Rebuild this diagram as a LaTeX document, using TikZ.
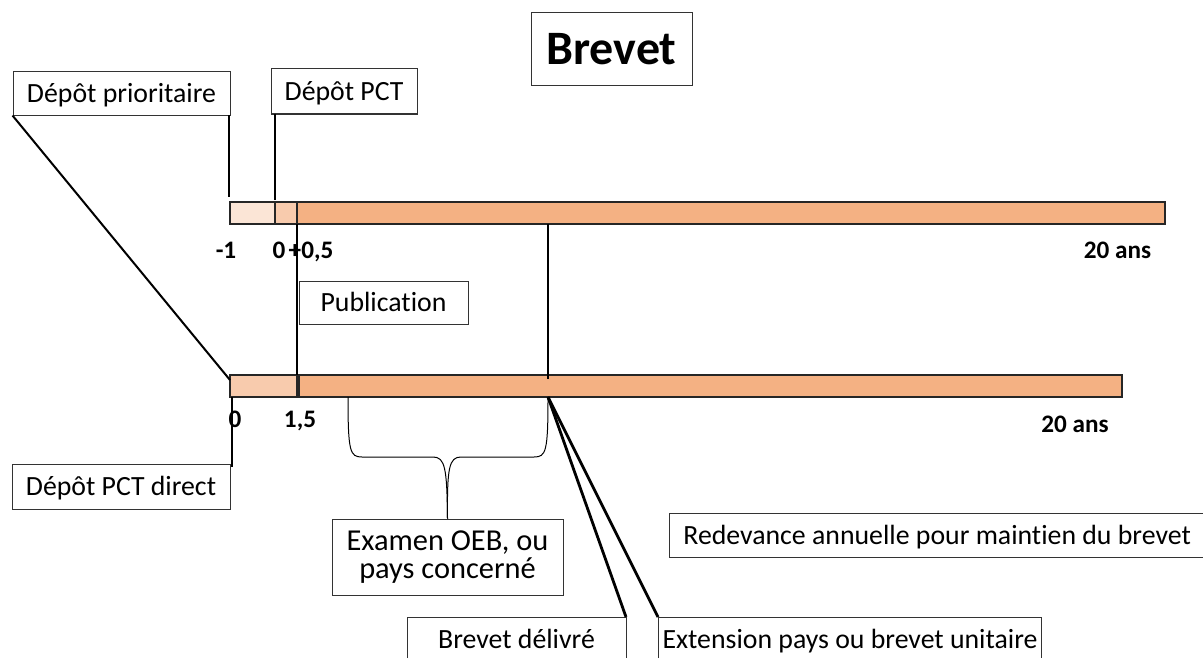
\documentclass[tikz,border=0pt]{standalone}
\usepackage{fontspec}
\setmainfont{Carlito}[Ligatures=NoCommon]
\definecolor{barlight}{HTML}{FBE5D6}
\definecolor{barmid}{HTML}{F8CBAD}
\definecolor{barmain}{HTML}{F4B183}
\begin{document}
\begin{tikzpicture}[x=0.5pt,y=-0.5pt,
  labelbox/.style={draw=black!80, line width=0.5pt, fill=white, inner sep=0pt,
    text height=10.5pt, text depth=1.5pt, font=\fontsize{13.9}{16}\selectfont},
  labeltext/.style={inner sep=0pt, anchor=base, font=\fontsize{13.9}{16}\selectfont},
  seg/.style={draw=black!85, line width=0.6pt, inner sep=0pt, minimum height=11pt},
  lead/.style={line width=1.4pt, black},
  thinlead/.style={line width=1pt, black},
  brace/.style={line width=0.5pt, black},
  num/.style={font=\fontsize{12.6}{14}\selectfont\bfseries, inner sep=0pt, anchor=base}]
\useasboundingbox (0,0) rectangle (1203,658);

% title
\node[draw=black!80, line width=0.5pt, inner sep=0pt, minimum width=80.5pt, minimum height=36.5pt,
  text height=17pt, text depth=1.5pt,
  font=\fontsize{24}{28}\selectfont\bfseries] (title) at (611.5,49.5) {Brevet};

% upper time line: priority filing, PCT filing, 20 years
\node[seg, fill=barlight, minimum width=22.5pt] (t1) at (252.5,213) {};
\node[seg, fill=barmid, minimum width=11pt] (t2) at (286,213) {};
\node[seg, fill=barmain, minimum width=434pt] (t3) at (731,213) {};

\node[num] (n1) at (226,258) {-1};
\node[num] (n2) at (279,258) {0};
\node[num] (n3) at (311,258) {+0,5};
\node[num] (n4) at (1117.5,258) {20 ans};

% lower time line: direct PCT filing
\node[seg, fill=barmid, minimum width=33.5pt] (b1) at (263.5,386) {};
\node[seg, fill=barmain, minimum width=411.5pt] (b2) at (710.5,386) {};

\node[num] (m1) at (235,427) {0};
\node[num] (m2) at (300,427) {1,5};
\node[num] (m3) at (1075,432) {20 ans};

% label boxes
\node[labelbox, minimum width=108.5pt, minimum height=21.5pt] (prio) at (121.5,93.5) {Dépôt prioritaire};
\node[labelbox, minimum width=73pt, minimum height=22.5pt] (pct) at (344,91.5) {Dépôt PCT};
\node[labelbox, minimum width=84.5pt, minimum height=21.5pt] (pub) at (383.5,302.5) {Publication};
\node[labelbox, minimum width=109pt, minimum height=22.5pt] (direct) at (121,486.5) {Dépôt PCT direct};
\node[draw=black!80, line width=0.5pt, fill=white, minimum width=115.5pt, minimum height=38pt]
  (exam) at (447.5,557) {};
\node[labeltext, font=\fontsize{15.2}{16}\selectfont] (exam1) at (447.5,550) {Examen OEB, ou};
\node[labeltext, font=\fontsize{15.2}{16}\selectfont] (exam2) at (447.5,578) {pays concerné};

% boxes running past the lower and right edges
\draw[draw=black!80, line width=0.5pt] (1203,513) -- (669,513) -- (669,557) -- (1203,557);
\node[labeltext, anchor=base west] (fee) at (683,544)
  {Redevance annuelle pour maintien du brevet};
\draw[draw=black!80, line width=0.5pt] (407,658) -- (407,617) -- (626,617) -- (626,658);
\node[labeltext] (grant) at (516.5,648) {Brevet délivré};
\draw[draw=black!80, line width=0.5pt] (658,658) -- (658,617) -- (1041,617) -- (1041,658);
\node[labeltext] (ext) at (850,648) {Extension pays ou brevet unitaire};

% connector end points
\coordinate (prioEnd) at (229,197);
\coordinate (prioTop) at (229,115);
\coordinate (pctTop) at (275,114);
\coordinate (pctEnd) at (275,200);
\coordinate (pubTop) at (297,224);
\coordinate (pubEnd) at (297,375);
\coordinate (grantTop) at (548,224);
\coordinate (grantEnd) at (548,379);
\coordinate (grantLow) at (548,397);
\coordinate (directTop) at (232,397);
\coordinate (directEnd) at (232,467);
\coordinate (linkEnd) at (230,380);
\coordinate (grantBox) at (626,617);
\coordinate (extBox) at (658,617);

% connectors
\draw[lead] (prioTop) -- (prioEnd);
\draw[lead] (pctTop) -- (pctEnd);
\draw[lead] (pubTop) -- (pubEnd);
\draw[lead] (grantTop) -- (grantEnd);
\draw[lead] (directTop) -- (directEnd);
\draw[thinlead] (prio.south west) -- (linkEnd);
\draw[lead] (grantLow) -- (grantBox);
\draw[lead] (grantLow) -- (extBox);

% brace over the examination period
\coordinate (braceL) at (348,397);
\coordinate (braceR) at (548,397);
\draw[brace] (braceL) .. controls (348,452) and (350,457) .. (362,457) -- (433,457)
  .. controls (445,457) and (447,468) .. (exam.north);
\draw[brace] (braceR) .. controls (548,452) and (546,457) .. (534,457) -- (461,457)
  .. controls (449,457) and (447,468) .. (exam.north);
\end{tikzpicture}
\end{document}
